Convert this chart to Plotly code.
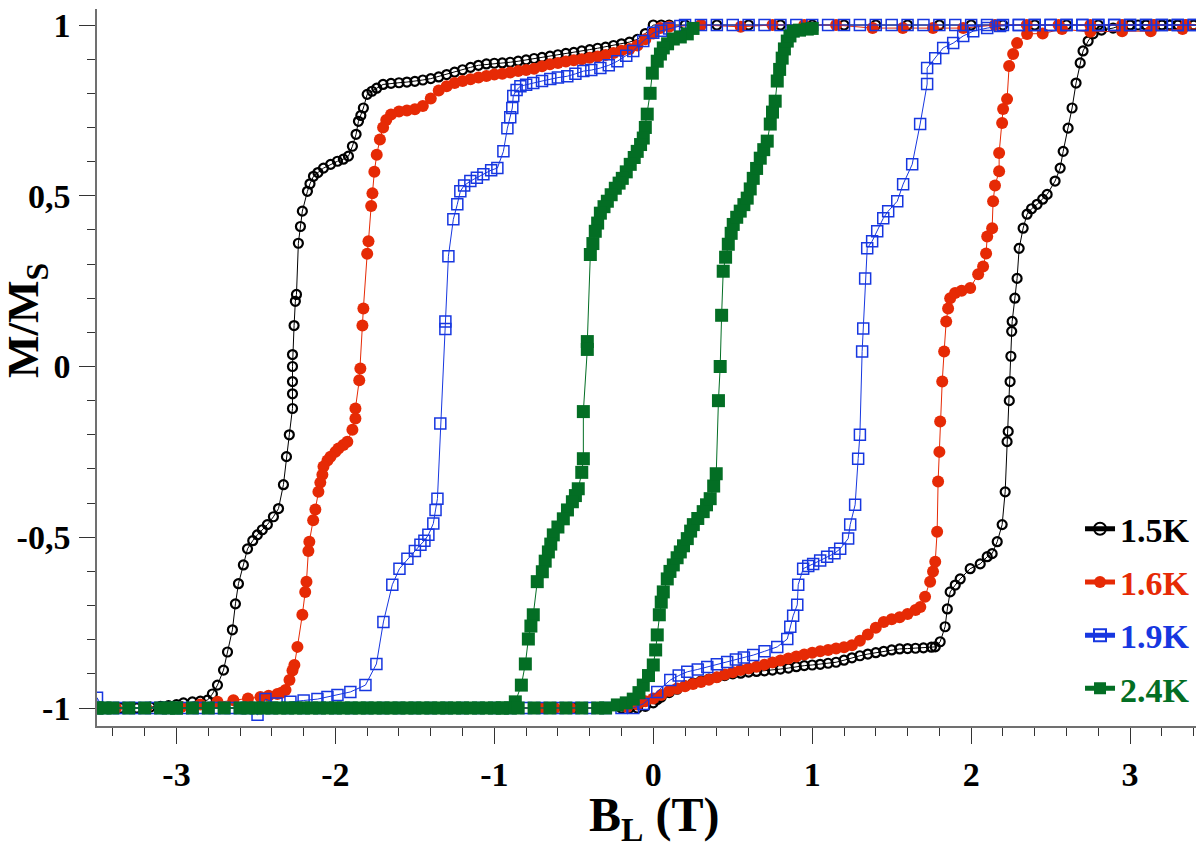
import plotly.graph_objects as go

# ---------------- data (B in tesla, M/Ms) ----------------
# 1.5 K descending branch
DOWN_15 = [(3.5,1),(3.45,1),(3.4,1),(3.35,1),(3.3,1),(3.25,1),(3.2,1),(3.15,1),(3.1,1),(3.0,1),(2.8,1),(2.6,1),
           (2.4,1),(2.2,1),(2.0,1),(1.8,1),(1.6,1),(1.4,1),(1.2,1),(1.0,1),(0.8,1),(0.6,1),(0.4,1),(0.3,1),(0.2,1),
           (0.1,1),(0.05,1),(0.0,1.0),(-0.05,0.975),(-0.1,0.958),(-0.15,0.95),(-0.2,0.945),(-0.25,0.94),(-0.3,0.935),
           (-0.35,0.932),(-0.4,0.928),(-0.45,0.924),(-0.5,0.92),(-0.55,0.917),(-0.6,0.913),(-0.65,0.909),(-0.7,0.905),
           (-0.75,0.902),(-0.8,0.898),(-0.85,0.894),(-0.9,0.891),(-0.95,0.889),(-1.0,0.888),(-1.05,0.886),(-1.1,0.882),
           (-1.15,0.876),(-1.2,0.869),(-1.25,0.862),(-1.3,0.855),(-1.35,0.848),(-1.4,0.843),(-1.45,0.839),(-1.5,0.835),
           (-1.55,0.833),(-1.6,0.831),(-1.65,0.829),(-1.7,0.826),(-1.74,0.815),(-1.77,0.806),(-1.80,0.797),(-1.824,0.757),
           (-1.84,0.735),(-1.855,0.718),(-1.87,0.68),(-1.893,0.645),(-1.918,0.616),(-1.95,0.607),(-1.987,0.601),
           (-2.03,0.592),(-2.075,0.581),(-2.11,0.568),(-2.138,0.557),(-2.16,0.535),(-2.176,0.513),(-2.208,0.455),
           (-2.22,0.41),(-2.233,0.361),(-2.245,0.211),(-2.252,0.191),(-2.26,0.12),(-2.27,0.035),(-2.27,0.0),
           (-2.27,-0.044),(-2.27,-0.08),(-2.27,-0.123),(-2.29,-0.2),(-2.308,-0.264),(-2.327,-0.346),(-2.358,-0.416),
           (-2.39,-0.44),(-2.428,-0.463),(-2.46,-0.478),(-2.491,-0.493),(-2.52,-0.51),(-2.553,-0.534),(-2.579,-0.581),
           (-2.61,-0.636),(-2.629,-0.695),(-2.648,-0.771),(-2.679,-0.836),(-2.704,-0.889),(-2.742,-0.933),
           (-2.774,-0.959),(-2.805,-0.977),(-2.85,-0.98),(-2.9,-0.982),(-2.956,-0.985),(-3.0,-0.99),(-3.05,-0.993),
           (-3.1,-0.995),(-3.164,-0.997),(-3.2,-1),(-3.25,-1),(-3.3,-1),(-3.35,-1),(-3.4,-1),(-3.45,-1),(-3.5,-1)]
# 1.5 K ascending branch
UP_15 = [(-3.5,-1),(-3.3,-1),(-3.1,-1),(-2.9,-1),(-2.7,-1),(-2.5,-1),(-2.3,-1),(-2.1,-1),(-1.9,-1),(-1.7,-1),
         (-1.5,-1),(-1.3,-1),(-1.1,-1),(-0.9,-1),(-0.7,-1),(-0.5,-1),(-0.3,-1),(-0.2,-1),(-0.15,-1),(-0.1,-1),
         (-0.05,-0.995),(0.0,-0.985),(0.025,-0.975),(0.05,-0.968),(0.1,-0.955),(0.15,-0.945),(0.2,-0.935),
         (0.25,-0.927),(0.3,-0.921),(0.35,-0.915),(0.4,-0.91),(0.45,-0.905),(0.5,-0.9),(0.55,-0.898),(0.6,-0.895),
         (0.65,-0.893),(0.7,-0.891),(0.75,-0.889),(0.8,-0.886),(0.85,-0.883),(0.9,-0.879),(0.95,-0.876),
         (1.0,-0.874),(1.05,-0.872),(1.1,-0.869),(1.15,-0.866),(1.2,-0.86),(1.25,-0.853),(1.3,-0.847),
         (1.35,-0.842),(1.4,-0.838),(1.45,-0.834),(1.5,-0.83),(1.55,-0.827),(1.6,-0.826),(1.65,-0.825),
         (1.7,-0.824),(1.75,-0.822),(1.774,-0.821),(1.805,-0.806),(1.836,-0.762),(1.85,-0.71),(1.868,-0.66),
         (1.9,-0.64),(1.931,-0.622),(1.994,-0.592),(2.057,-0.578),(2.101,-0.557),(2.132,-0.548),(2.164,-0.513),
         (2.195,-0.463),(2.214,-0.367),(2.226,-0.22),(2.233,-0.19),(2.24,-0.1),(2.245,-0.044),(2.25,0.03),
         (2.255,0.103),(2.258,0.132),(2.275,0.2),(2.289,0.258),(2.302,0.346),(2.327,0.405),(2.352,0.446),
         (2.38,0.462),(2.415,0.475),(2.45,0.49),(2.478,0.504),(2.528,0.543),(2.56,0.581),(2.579,0.63),
         (2.61,0.698),(2.635,0.757),(2.66,0.83),(2.686,0.889),(2.704,0.924),(2.736,0.953),(2.767,0.974),
         (2.82,0.985),(2.893,0.991),(2.95,1),(3.0,1),(3.05,1),(3.1,1),(3.15,1),(3.2,1),(3.25,1),(3.3,1),
         (3.35,1),(3.4,1),(3.45,1),(3.5,1)]

# 1.6 K
DOWN_16 = [(3.5,1),(3.35,1),(3.15,1),(2.95,1),(2.75,1),(2.55,1),(2.35,1),(2.15,1),(1.95,0.991),(1.76,0.991),
           (1.57,0.991),(1.38,0.991),(1.15,1),(0.95,1),(0.75,1),(0.55,0.995),(0.3,1),(0.1,0.995),(0.044,0.991),
           (0.0,0.975),(-0.05,0.958),(-0.1,0.94),(-0.15,0.93),(-0.2,0.925),(-0.25,0.918),(-0.3,0.912),
           (-0.35,0.908),(-0.4,0.904),(-0.45,0.9),(-0.5,0.897),(-0.55,0.893),(-0.6,0.889),(-0.65,0.885),
           (-0.7,0.879),(-0.75,0.872),(-0.8,0.868),(-0.85,0.865),(-0.9,0.861),(-0.95,0.857),(-1.0,0.855),
           (-1.05,0.851),(-1.1,0.846),(-1.15,0.841),(-1.2,0.836),(-1.25,0.83),(-1.3,0.821),(-1.35,0.808),
           (-1.4,0.785),(-1.45,0.763),(-1.5,0.753),(-1.55,0.75),(-1.6,0.747),(-1.65,0.738),(-1.68,0.722),
           (-1.7,0.7),(-1.72,0.665),(-1.74,0.62),(-1.755,0.57),(-1.767,0.507),(-1.775,0.47),(-1.792,0.367),
           (-1.8,0.33),(-1.824,0.17),(-1.83,0.12),(-1.843,-0.006),(-1.85,-0.04),(-1.874,-0.123),(-1.874,-0.152),
           (-1.893,-0.185),(-1.925,-0.22),(-1.95,-0.23),(-1.981,-0.24),(-2.0,-0.25),(-2.031,-0.264),
           (-2.05,-0.275),(-2.075,-0.293),(-2.082,-0.317),(-2.095,-0.34),(-2.107,-0.367),(-2.126,-0.419),
           (-2.14,-0.45),(-2.164,-0.513),(-2.17,-0.54),(-2.182,-0.63),(-2.19,-0.66),(-2.208,-0.727),
           (-2.239,-0.821),(-2.258,-0.874),(-2.27,-0.89),(-2.289,-0.918),(-2.314,-0.947),(-2.34,-0.955),
           (-2.365,-0.959),(-2.42,-0.964),(-2.472,-0.968),(-2.55,-0.972),(-2.642,-0.977),(-2.742,-0.982),
           (-2.85,-0.99),(-2.97,-0.997),(-3.19,-1),(-3.38,-1),(-3.5,-1)]
UP_16 = [(-3.5,-1),(-3.3,-1),(-3.1,-1),(-2.9,-1),(-2.7,-1),(-2.5,-1),(-2.3,-1),(-2.1,-1),(-1.9,-1),(-1.7,-1),
         (-1.5,-1),(-1.3,-1),(-1.1,-1),(-0.9,-1),(-0.71,-1),(-0.62,-1),(-0.52,-1),(-0.33,-1),
         (-0.164,-0.997),(-0.1,-0.99),(-0.05,-0.98),(0.0,-0.972),(0.05,-0.962),(0.1,-0.95),(0.15,-0.943),
         (0.2,-0.936),(0.25,-0.93),(0.3,-0.924),(0.35,-0.917),(0.4,-0.91),(0.45,-0.902),(0.5,-0.895),
         (0.55,-0.889),(0.6,-0.884),(0.65,-0.879),(0.7,-0.873),(0.75,-0.867),(0.8,-0.861),(0.85,-0.855),
         (0.9,-0.849),(0.95,-0.843),(1.0,-0.838),(1.05,-0.834),(1.1,-0.83),(1.15,-0.826),(1.2,-0.822),
         (1.25,-0.816),(1.3,-0.803),(1.35,-0.785),(1.4,-0.765),(1.45,-0.748),(1.5,-0.74),(1.55,-0.734),
         (1.6,-0.725),(1.65,-0.713),(1.68,-0.704),(1.71,-0.674),(1.742,-0.63),(1.76,-0.6),(1.774,-0.572),
         (1.786,-0.484),(1.792,-0.337),(1.8,-0.25),(1.805,-0.161),(1.818,-0.044),(1.83,0.044),(1.843,0.132),
         (1.855,0.17),(1.868,0.2),(1.899,0.215),(1.94,0.222),(1.994,0.23),(2.044,0.27),(2.075,0.293),
         (2.094,0.331),(2.101,0.381),(2.132,0.405),(2.138,0.484),(2.15,0.53),(2.176,0.572),(2.176,0.625),
         (2.195,0.713),(2.201,0.754),(2.226,0.783),(2.239,0.88),(2.264,0.915),(2.289,0.947),(2.352,0.974),
         (2.45,0.975),(2.572,0.988),(2.75,0.98),(2.95,0.982),(3.13,0.982),(3.33,0.988),(3.5,0.99)]

# 1.9 K
DOWN_19 = [(3.5,0.988),(3.4,1),(3.3,1),(3.2,1),(3.1,1),(3.0,1),(2.9,1),(2.8,1),(2.7,1),(2.6,1),(2.5,1),(2.4,1),
           (2.3,1),(2.2,1),(2.1,1),(2.0,1),(1.9,1),(1.8,1),(1.7,1),(1.6,1),(1.5,1),(1.4,1),(1.3,1),(1.2,1),
           (1.1,1),(1.0,1),(0.9,1),(0.8,1),(0.7,1),(0.6,1),(0.5,1),(0.4,1),(0.3,1),(0.2,1),(0.17,0.997),
           (0.1,0.99),(0.05,0.983),(0.0,0.977),(-0.063,0.953),(-0.126,0.924),(-0.17,0.91),(-0.226,0.894),
           (-0.28,0.882),(-0.333,0.874),(-0.39,0.868),(-0.44,0.865),(-0.49,0.857),(-0.541,0.85),(-0.6,0.846),
           (-0.648,0.842),(-0.7,0.836),(-0.755,0.83),(-0.8,0.825),(-0.836,0.821),(-0.86,0.81),(-0.881,0.792),
           (-0.887,0.757),(-0.9,0.73),(-0.918,0.698),(-0.943,0.63),(-0.981,0.581),(-1.02,0.575),(-1.069,0.563),
           (-1.11,0.553),(-1.151,0.543),(-1.19,0.53),(-1.214,0.513),(-1.233,0.475),(-1.258,0.431),(-1.289,0.323),
           (-1.308,0.132),(-1.308,0.11),(-1.34,-0.167),(-1.358,-0.387),(-1.37,-0.42),(-1.384,-0.46),
           (-1.415,-0.493),(-1.44,-0.51),(-1.465,-0.522),(-1.5,-0.54),(-1.547,-0.563),(-1.597,-0.592),
           (-1.642,-0.639),(-1.698,-0.748),(-1.742,-0.871),(-1.811,-0.933),(-1.906,-0.953),(-1.987,-0.962),
           (-2.05,-0.968),(-2.113,-0.974),(-2.2,-0.978),(-2.283,-0.982),(-2.37,-0.987),(-2.44,-0.974),
           (-2.49,-1.02),(-2.56,-1),(-2.66,-1),(-2.76,-1),(-2.86,-1),(-2.96,-1),(-3.06,-1),(-3.16,-1),(-3.26,-1),
           (-3.36,-1),(-3.46,-1),(-3.5,-0.97)]
UP_19 = [(-3.5,-1),(-3.4,-1),(-3.3,-1),(-3.2,-1),(-3.1,-1),(-3.0,-1),(-2.9,-1),(-2.8,-1),(-2.7,-1),(-2.6,-1),
         (-2.5,-1),(-2.4,-1),(-2.3,-1),(-2.2,-1),(-2.1,-1),(-2.0,-1),(-1.9,-1),(-1.8,-1),(-1.7,-1),(-1.6,-1),
         (-1.5,-1),(-1.4,-1),(-1.3,-1),(-1.2,-1),(-1.1,-1),(-1.0,-1),(-0.9,-1),(-0.8,-1),(-0.7,-1),(-0.6,-1),
         (-0.5,-1),(-0.4,-1),(-0.3,-1),(-0.2,-1),(-0.126,-1),(-0.063,-0.988),(0.025,-0.953),(0.107,-0.918),
         (0.16,-0.905),(0.214,-0.894),(0.28,-0.887),(0.34,-0.88),(0.4,-0.872),(0.465,-0.865),(0.52,-0.858),
         (0.57,-0.852),(0.629,-0.845),(0.7,-0.834),(0.78,-0.821),(0.843,-0.798),(0.862,-0.762),(0.88,-0.73),
         (0.906,-0.698),(0.912,-0.639),(0.943,-0.592),(0.975,-0.584),(1.006,-0.578),(1.05,-0.568),
         (1.094,-0.557),(1.14,-0.547),(1.176,-0.534),(1.226,-0.504),(1.239,-0.463),(1.27,-0.405),
         (1.289,-0.27),(1.3,-0.2),(1.314,0.044),(1.321,0.111),(1.333,0.258),(1.346,0.346),(1.377,0.367),
         (1.409,0.396),(1.447,0.434),(1.478,0.455),(1.535,0.484),(1.572,0.534),(1.629,0.592),(1.679,0.71),
         (1.723,0.827),(1.723,0.874),(1.774,0.903),(1.824,0.933),(1.887,0.947),(1.95,0.968),(2.013,0.982),
         (2.101,0.991),(2.182,0.997),(2.3,1),(2.4,1),(2.5,1),(2.6,1),(2.7,1),(2.8,1),(2.9,1),(3.0,1),(3.1,1),
         (3.2,1),(3.3,1),(3.4,1),(3.5,0.988)]

# 2.4 K
DOWN_24 = [(0.25,0.99),(0.214,0.974),(0.17,0.965),(0.126,0.959),(0.09,0.945),(0.063,0.933),(0.045,0.915),
           (0.025,0.894),(-0.006,0.859),(-0.02,0.8),(-0.038,0.739),(-0.05,0.7),(-0.063,0.669),(-0.08,0.65),
           (-0.101,0.63),(-0.12,0.612),(-0.145,0.592),(-0.17,0.57),(-0.195,0.551),(-0.215,0.537),(-0.239,0.522),
           (-0.265,0.503),(-0.289,0.484),(-0.31,0.468),(-0.333,0.449),(-0.35,0.42),(-0.365,0.396),(-0.38,0.36),
           (-0.396,0.328),(-0.415,0.073),(-0.415,0.05),(-0.44,-0.132),(-0.44,-0.27),(-0.45,-0.31),(-0.472,-0.358),
           (-0.49,-0.378),(-0.509,-0.396),(-0.54,-0.42),(-0.566,-0.446),(-0.6,-0.47),(-0.629,-0.493),
           (-0.645,-0.52),(-0.66,-0.543),(-0.68,-0.57),(-0.698,-0.601),(-0.73,-0.63),(-0.755,-0.727),
           (-0.77,-0.76),(-0.786,-0.798),(-0.805,-0.871),(-0.83,-0.933),(-0.868,-0.982),(-0.899,-1),(-0.95,-1),
           (-1.0,-1),(-1.1,-1),(-1.2,-1),(-1.3,-1),(-1.4,-1),(-1.5,-1),(-1.6,-1),(-1.7,-1),(-1.8,-1),(-1.9,-1),
           (-2.0,-1),(-2.1,-1),(-2.2,-1),(-2.3,-1),(-2.4,-1),(-2.5,-1),(-2.6,-1),(-2.7,-1),(-2.8,-1),(-2.9,-1),
           (-3.0,-1),(-3.1,-1),(-3.2,-1),(-3.3,-1),(-3.4,-1),(-3.5,-1)]
UP_24 = [(-3.5,-1),(-3.45,-1),(-3.05,-1),(-3.0,-1),(-2.55,-1),(-2.45,-1),(-2.35,-1),(-2.25,-1),(-2.15,-1),
         (-2.05,-1),(-1.95,-1),(-1.85,-1),(-1.75,-1),(-1.65,-1),(-1.55,-1),(-1.45,-1),(-1.35,-1),(-1.25,-1),
         (-1.15,-1),(-1.05,-1),(-0.95,-1),(-0.85,-1),(-0.75,-1),(-0.65,-1),(-0.55,-1),(-0.45,-1),(-0.35,-1),
         (-0.3,-1),(-0.226,-0.991),(-0.17,-0.985),(-0.126,-0.974),(-0.09,-0.955),(-0.063,-0.933),(-0.03,-0.905),
         (0.0,-0.874),(0.015,-0.83),(0.025,-0.786),(0.038,-0.727),(0.05,-0.69),(0.063,-0.66),(0.088,-0.622),
         (0.105,-0.6),(0.126,-0.581),(0.15,-0.56),(0.17,-0.543),(0.19,-0.525),(0.214,-0.504),(0.235,-0.482),
         (0.252,-0.463),(0.28,-0.445),(0.314,-0.425),(0.335,-0.405),(0.358,-0.387),(0.38,-0.35),(0.396,-0.314),
         (0.41,-0.1),(0.421,0.0),(0.43,0.15),(0.44,0.279),(0.455,0.32),(0.472,0.358),(0.49,0.39),(0.503,0.416),
         (0.525,0.437),(0.547,0.455),(0.57,0.474),(0.591,0.493),(0.61,0.52),(0.629,0.551),(0.65,0.58),
         (0.673,0.61),(0.695,0.635),(0.717,0.66),(0.736,0.71),(0.75,0.745),(0.767,0.777),(0.78,0.836),
         (0.795,0.87),(0.811,0.903),(0.825,0.93),(0.843,0.953),(0.86,0.968),(0.881,0.982),(0.92,0.985),
         (0.969,0.988),(1.0,0.99)]

SERIES = ["1.5K", "1.6K", "1.9K", "2.4K"]
COLORS = ["#000000", "#E62A05", "#1737E0", "#036E24"]

X_TICKS = [-3, -2, -1, 0, 1, 2, 3]
X_TICKTEXT = ["-3", "-2", "-1", "0", "1", "2", "3"]
Y_TICKS = [-1, -0.5, 1e-9, 0.5, 1]
Y_TICKTEXT = ["-1", "-0,5", "0", "0,5", "1"]

FONT = "Liberation Serif"

branches = [(DOWN_15, UP_15), (DOWN_16, UP_16), (DOWN_19, UP_19), (DOWN_24, UP_24)]
markers = [
    dict(symbol="circle-open", size=9, line=dict(width=2.2, color=COLORS[0])),
    dict(symbol="circle", size=12, color=COLORS[1], line=dict(width=0)),
    dict(symbol="square-open", size=11, line=dict(width=1.5, color=COLORS[2])),
    dict(symbol="square", size=13, color=COLORS[3], line=dict(width=0)),
]

fig = go.Figure()
for i, (name, col) in enumerate(zip(SERIES, COLORS)):
    down, up = branches[i]
    pts = down + up
    mk = dict(markers[i])
    if "color" not in mk:
        mk["color"] = col
    fig.add_trace(go.Scatter(
        x=[p[0] for p in pts], y=[p[1] for p in pts], mode="lines+markers",
        name=f'<span style="color:{col}">{name}</span>',
        line=dict(color=col, width=1), marker=mk, legendgroup=name,
    ))

axis_common = dict(showline=True, linecolor="#707070", linewidth=1.5, ticks="outside", ticklen=16,
                   tickwidth=1.3, tickcolor="#333333", showgrid=False, zeroline=False, automargin=False,
                   ticklabeloverflow="allow",
                   tickfont=dict(family=FONT, size=34, color="black", weight="bold"))

# the page body adds an 8 px offset at the top-left; margins compensate for it
fig.update_layout(
    width=1204, height=855, margin=dict(l=89, r=8, t=1, b=137),
    paper_bgcolor="white", plot_bgcolor="white",
    xaxis=dict(range=[-3.5, 3.465], tickmode="array", tickvals=X_TICKS, ticktext=X_TICKTEXT,
               ticklabelstandoff=1,
               minor=dict(tickmode="linear", tick0=0, dtick=0.2, ticks="outside", ticklen=8,
                          tickwidth=1.2, tickcolor="#333333"), **axis_common),
    yaxis=dict(range=[-1.0527, 1.0469], tickmode="array", tickvals=Y_TICKS, ticktext=Y_TICKTEXT,
               ticklabelstandoff=2,
               minor=dict(tickmode="linear", tick0=0, dtick=0.1, ticks="outside", ticklen=8,
                          tickwidth=1.2, tickcolor="#333333"), **axis_common),
    showlegend=True,
    legend=dict(x=0.888, xanchor="left", y=0.315, yanchor="top", bgcolor="rgba(0,0,0,0)",
                font=dict(family=FONT, size=34, weight="bold"), tracegroupgap=6,
                itemsizing="constant"),
    annotations=[
        dict(text="M/M<sub>S</sub>", textangle=-90, xref="paper", yref="paper", x=-0.064, y=0.565,
             xanchor="center", yanchor="middle", showarrow=False, bgcolor="rgba(0,0,0,0)",
             font=dict(family=FONT, size=45, color="black", weight="bold")),
        dict(text="B<sub>L</sub> (T)", xref="paper", yref="paper", x=0.503, y=-0.128,
             xanchor="center", yanchor="middle", showarrow=False,
             font=dict(family=FONT, size=48, color="black", weight="bold")),
    ],
)

fig.write_html("out.html")
